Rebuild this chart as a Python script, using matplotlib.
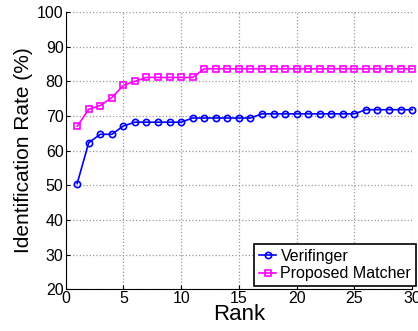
import numpy as np
import matplotlib
matplotlib.use('Agg')
import matplotlib.pyplot as plt

plt.rcParams['font.family'] = ['Liberation Sans', 'DejaVu Sans']

# rank 1..30
rank = list(range(1, 31))
verifinger = [50.5, 62.3, 64.7, 64.7, 67.1, 68.2, 68.2, 68.2, 68.2, 68.2,
              69.4, 69.4, 69.4, 69.4, 69.4, 69.4, 70.6, 70.6, 70.6, 70.6,
              70.6, 70.6, 70.6, 70.6, 70.6, 71.8, 71.8, 71.8, 71.8, 71.8]
proposed = [67.0, 71.9, 73.0, 75.3, 78.8, 80.0, 81.1, 81.1, 81.1, 81.1,
            81.1, 83.6, 83.6, 83.6, 83.6, 83.6, 83.6, 83.6, 83.6, 83.6,
            83.6, 83.6, 83.6, 83.6, 83.6, 83.6, 83.6, 83.6, 83.6, 83.6]

fig = plt.figure(figsize=(4.18, 3.31), dpi=100)
ax = fig.add_axes([0.157, 0.126, 0.829, 0.838])

ax.plot(rank, verifinger, color='blue', marker='o', markersize=4.5,
        markerfacecolor='none', markeredgewidth=1.2, linewidth=1.2,
        label='Verifinger', clip_on=False)
ax.plot(rank, proposed, color='magenta', marker='s', markersize=3.8,
        markerfacecolor='none', markeredgewidth=1.2, linewidth=1.2,
        label='Proposed Matcher', clip_on=False)

ax.set_xlim(0, 30)
ax.set_ylim(20, 100)
ax.set_xticks(range(0, 31, 5))
ax.set_yticks(range(20, 101, 10))
ax.grid(True, linestyle=':', color='#999999', linewidth=0.9)
ax.spines['top'].set_visible(False)
ax.spines['right'].set_visible(False)
ax.tick_params(direction='in', length=3, labelsize=11.5, pad=1.5)

ax.set_xlabel('Rank', fontsize=16, labelpad=-1.5)
ax.set_ylabel('Identification Rate (%)', fontsize=15, labelpad=3)

leg = ax.legend(loc='lower left', bbox_to_anchor=(0.544, 0.012),
                borderaxespad=0, fontsize=11.5, handlelength=1.1,
                handletextpad=0.25, fancybox=False, framealpha=1,
                edgecolor='black', borderpad=0.3, labelspacing=0.15)
leg.get_frame().set_linewidth(1.2)

fig.savefig('out.png', dpi=100)
